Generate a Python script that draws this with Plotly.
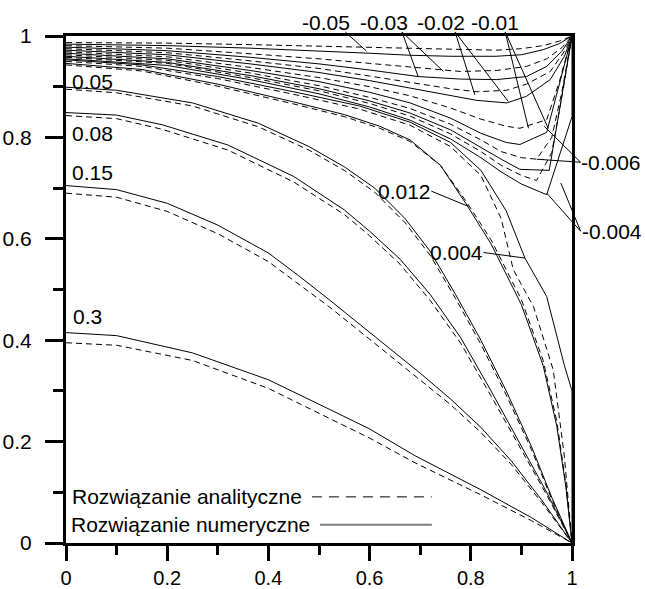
import plotly.graph_objects as go

# ---------------- data ----------------
# positive levels: numerical (solid) and analytical (dashed)
n030_x = [0, 0.1, 0.25, 0.4, 0.52, 0.6, 0.69, 0.82, 0.92, 1]
n030_y = [0.415, 0.409, 0.375, 0.322, 0.264, 0.225, 0.172, 0.105, 0.05, 0]
a030_x = [0, 0.1, 0.25, 0.4, 0.52, 0.6, 0.69, 0.82, 0.92, 1]
a030_y = [0.395, 0.39, 0.36, 0.305, 0.246, 0.207, 0.158, 0.095, 0.044, 0]

n015_x = [0, 0.1, 0.2, 0.3, 0.4, 0.46, 0.52, 0.6, 0.7, 0.76, 0.82, 0.88, 0.94, 1]
n015_y = [0.705, 0.697, 0.67, 0.627, 0.572, 0.527, 0.48, 0.415, 0.335, 0.284, 0.228, 0.162, 0.085, 0]
a015_x = [0, 0.1, 0.2, 0.3, 0.4, 0.46, 0.52, 0.6, 0.7, 0.76, 0.82, 0.88, 0.94, 1]
a015_y = [0.69, 0.682, 0.654, 0.61, 0.555, 0.51, 0.466, 0.402, 0.322, 0.273, 0.218, 0.155, 0.08, 0]

n008_x = [0, 0.1, 0.19, 0.32, 0.45, 0.55, 0.6, 0.66, 0.72, 0.78, 0.84, 0.9, 0.95, 1]
n008_y = [0.849, 0.844, 0.825, 0.785, 0.723, 0.657, 0.615, 0.56, 0.49, 0.405, 0.3, 0.19, 0.1, 0]
a008_x = [0, 0.1, 0.19, 0.32, 0.45, 0.55, 0.6, 0.66, 0.72, 0.78, 0.84, 0.9, 0.95, 1]
a008_y = [0.843, 0.837, 0.816, 0.775, 0.712, 0.648, 0.606, 0.55, 0.478, 0.394, 0.29, 0.182, 0.095, 0]

n005_x = [0, 0.1, 0.25, 0.38, 0.48, 0.55, 0.61, 0.67, 0.72, 0.77, 0.82, 0.87, 0.92, 0.96, 1]
n005_y = [0.899, 0.893, 0.868, 0.828, 0.782, 0.742, 0.70, 0.64, 0.575, 0.49, 0.40, 0.30, 0.19, 0.09, 0]
a005_x = [0, 0.1, 0.25, 0.38, 0.48, 0.55, 0.61, 0.67, 0.72, 0.77, 0.82, 0.87, 0.92, 0.96, 1]
a005_y = [0.895, 0.888, 0.862, 0.821, 0.775, 0.735, 0.692, 0.632, 0.567, 0.482, 0.392, 0.292, 0.184, 0.086, 0]

n0012_x = [0, 0.15, 0.3, 0.45, 0.55, 0.62, 0.68, 0.74, 0.79, 0.84, 0.9, 0.943, 0.97, 0.988, 1]
n0012_y = [0.946, 0.934, 0.905, 0.87, 0.845, 0.822, 0.795, 0.745, 0.67, 0.59, 0.47, 0.35, 0.23, 0.11, 0]
a0012_x = [0, 0.15, 0.3, 0.45, 0.55, 0.62, 0.68, 0.74, 0.79, 0.84, 0.9, 0.943, 0.97, 0.988, 1]
a0012_y = [0.943, 0.931, 0.901, 0.866, 0.841, 0.818, 0.792, 0.745, 0.675, 0.598, 0.48, 0.36, 0.24, 0.115, 0]

n0004_x = [0, 0.15, 0.3, 0.45, 0.58, 0.68, 0.76, 0.82, 0.87, 0.907, 0.95, 0.985, 1, 1]
n0004_y = [0.953, 0.943, 0.92, 0.89, 0.862, 0.83, 0.79, 0.735, 0.655, 0.562, 0.486, 0.35, 0.30, 0]
a0004_x = [0, 0.15, 0.3, 0.45, 0.58, 0.68, 0.76, 0.82, 0.86, 0.884, 0.924, 0.963, 0.985, 1]
a0004_y = [0.95, 0.94, 0.916, 0.885, 0.856, 0.824, 0.782, 0.725, 0.64, 0.539, 0.466, 0.341, 0.17, 0]

# negative levels
nm005_x = [0, 0.2, 0.364, 0.5, 0.6, 0.68, 0.76, 0.85, 0.9, 0.943, 0.975, 1]
nm005_y = [0.984, 0.981, 0.976, 0.971, 0.966, 0.962, 0.96, 0.96, 0.963, 0.973, 0.985, 1]
am005_x = [0, 0.2, 0.364, 0.5, 0.6, 0.68, 0.76, 0.85, 0.9, 0.943, 0.975, 1]
am005_y = [0.987, 0.986, 0.983, 0.98, 0.977, 0.975, 0.973, 0.972, 0.975, 0.981, 0.99, 1]

nm003_x = [0, 0.2, 0.364, 0.5, 0.6, 0.696, 0.78, 0.851, 0.91, 0.95, 0.98, 1]
nm003_y = [0.978, 0.971, 0.958, 0.945, 0.933, 0.92, 0.915, 0.914, 0.92, 0.94, 0.97, 1]
am003_x = [0, 0.2, 0.364, 0.5, 0.6, 0.696, 0.78, 0.851, 0.91, 0.95, 0.98, 1]
am003_y = [0.981, 0.976, 0.965, 0.955, 0.946, 0.937, 0.93, 0.932, 0.94, 0.955, 0.977, 1]

nm002_x = [0, 0.2, 0.364, 0.5, 0.6, 0.68, 0.76, 0.812, 0.871, 0.91, 0.957, 0.985, 1]
nm002_y = [0.972, 0.963, 0.945, 0.928, 0.912, 0.897, 0.882, 0.873, 0.868, 0.881, 0.914, 0.96, 1]
am002_x = [0, 0.2, 0.364, 0.5, 0.6, 0.68, 0.76, 0.812, 0.871, 0.91, 0.957, 0.985, 1]
am002_y = [0.975, 0.967, 0.951, 0.936, 0.921, 0.908, 0.896, 0.89, 0.893, 0.905, 0.93, 0.97, 1]

nm001_x = [0, 0.2, 0.364, 0.5, 0.6, 0.68, 0.76, 0.82, 0.87, 0.897, 0.95, 0.975, 1]
nm001_y = [0.966, 0.955, 0.932, 0.91, 0.889, 0.868, 0.838, 0.808, 0.79, 0.786, 0.81, 0.905, 1]
am001_x = [0, 0.2, 0.364, 0.5, 0.6, 0.68, 0.76, 0.82, 0.87, 0.897, 0.95, 0.975, 1]
am001_y = [0.969, 0.959, 0.938, 0.918, 0.9, 0.882, 0.858, 0.836, 0.822, 0.818, 0.835, 0.91, 1]

nm0006_x = [0, 0.2, 0.364, 0.5, 0.6, 0.68, 0.76, 0.82, 0.86, 0.897, 0.955, 1]
nm0006_y = [0.96, 0.948, 0.922, 0.896, 0.872, 0.848, 0.815, 0.78, 0.757, 0.737, 0.735, 1]
am0006_x = [0, 0.2, 0.364, 0.5, 0.6, 0.68, 0.76, 0.82, 0.86, 0.9, 0.93, 0.96, 0.98, 1]
am0006_y = [0.963, 0.952, 0.927, 0.902, 0.879, 0.857, 0.826, 0.795, 0.772, 0.76, 0.757, 0.8, 0.89, 1]

nm0004_x = [0, 0.2, 0.364, 0.5, 0.6, 0.68, 0.76, 0.82, 0.86, 0.9, 0.95, 1, 1]
nm0004_y = [0.955, 0.942, 0.914, 0.886, 0.86, 0.834, 0.797, 0.76, 0.732, 0.708, 0.687, 0.841, 1]
am0004_x = [0, 0.2, 0.364, 0.5, 0.6, 0.68, 0.76, 0.82, 0.86, 0.9, 0.93, 0.96, 0.98, 1]
am0004_y = [0.958, 0.946, 0.918, 0.892, 0.867, 0.842, 0.807, 0.772, 0.745, 0.725, 0.715, 0.77, 0.88, 1]

# contour labels: text, x, y (axis units), anchor
label_text = ["0.05", "0.08", "0.15", "0.3", "0.012", "0.004",
              "-0.05", "-0.03", "-0.02", "-0.01", "-0.006", "-0.004"]
label_x = [0.008, 0.008, 0.008, 0.01, 0.668, 0.771, 0.514, 0.628, 0.741, 0.848, 1.077, 1.079]
label_y = [0.910, 0.808, 0.730, 0.446, 0.693, 0.573, 1.026, 1.026, 1.026, 1.026, 0.751, 0.614]
label_anchor = ["left", "left", "left", "left", "center", "center",
                "center", "center", "center", "center", "center", "center"]

# leader lines: start (x0,y0) -> tip (x1,y1)
leader_x0 = [0.552, 0.664, 0.664, 0.769, 0.769, 0.868, 0.868, 1.017, 1.017, 1.017, 1.017, 0.722, 0.825]
leader_y0 = [1.008, 1.008, 1.008, 1.008, 1.008, 1.008, 1.008, 0.751, 0.751, 0.615, 0.615, 0.694, 0.573]
leader_x1 = [0.594, 0.696, 0.746, 0.808, 0.874, 0.914, 0.953, 0.930, 0.945, 0.950, 0.978, 0.795, 0.907]
leader_y1 = [0.970, 0.920, 0.930, 0.884, 0.871, 0.818, 0.818, 0.757, 0.822, 0.690, 0.710, 0.664, 0.562]

legend_labels = ["Rozwiązanie analityczne", "Rozwiązanie numeryczne"]

tick_vals = [0, 0.2, 0.4, 0.6, 0.8, 1]
tick_text = ["0", "0.2", "0.4", "0.6", "0.8", "1"]
minor_vals = [0.1, 0.3, 0.5, 0.7, 0.9]

# ---------------- figure ----------------
FONT = "Liberation Sans, Arial, sans-serif"
FS = 21
DASH = "6px,4px"

numeric = [(n030_x, n030_y), (n015_x, n015_y), (n008_x, n008_y), (n005_x, n005_y),
           (n0012_x, n0012_y), (n0004_x, n0004_y),
           (nm005_x, nm005_y), (nm003_x, nm003_y), (nm002_x, nm002_y), (nm001_x, nm001_y),
           (nm0006_x, nm0006_y), (nm0004_x, nm0004_y)]
analytic = [(a030_x, a030_y), (a015_x, a015_y), (a008_x, a008_y), (a005_x, a005_y),
            (a0012_x, a0012_y), (a0004_x, a0004_y),
            (am005_x, am005_y), (am003_x, am003_y), (am002_x, am002_y), (am001_x, am001_y),
            (am0006_x, am0006_y), (am0004_x, am0004_y)]

fig = go.Figure()
for xs, ys in analytic:
    fig.add_trace(go.Scatter(x=xs, y=ys, mode="lines", showlegend=False, hoverinfo="skip",
                             line=dict(color="black", width=1, dash=DASH)))
for xs, ys in numeric:
    fig.add_trace(go.Scatter(x=xs, y=ys, mode="lines", showlegend=False, hoverinfo="skip",
                             line=dict(color="black", width=1)))

# axis ranges are exactly [0,1] over the full plot domain, so paper coords == axis coords
annotations = []
for t, x, y, a in zip(label_text, label_x, label_y, label_anchor):
    annotations.append(dict(text=t, x=x, y=y, xref="paper", yref="paper", showarrow=False,
                            xanchor=a, yanchor="middle",
                            font=dict(family=FONT, size=FS, color="black")))

annotations.append(dict(text=legend_labels[0], x=0.008, y=0.091, xref="paper", yref="paper",
                        showarrow=False, xanchor="left", yanchor="middle",
                        font=dict(family=FONT, size=FS, color="black")))
annotations.append(dict(text=legend_labels[1], x=0.006, y=0.036, xref="paper", yref="paper",
                        showarrow=False, xanchor="left", yanchor="middle",
                        font=dict(family=FONT, size=FS, color="black")))

shapes = []
for x0, y0, x1, y1 in zip(leader_x0, leader_y0, leader_x1, leader_y1):
    shapes.append(dict(type="line", xref="paper", yref="paper", x0=x0, y0=y0, x1=x1, y1=y1,
                       line=dict(color="black", width=1)))
shapes.append(dict(type="line", xref="paper", yref="paper", x0=0.486, y0=0.091, x1=0.723, y1=0.091,
                   line=dict(color="black", width=1, dash="10px,7px")))
shapes.append(dict(type="line", xref="paper", yref="paper", x0=0.502, y0=0.036, x1=0.723, y1=0.036,
                   line=dict(color="#808080", width=2)))

axis_common = dict(range=[0, 1], showgrid=False, zeroline=False, showline=True,
                   linewidth=3, linecolor="black", mirror=True, automargin=False,
                   ticks="outside", tickwidth=3, tickcolor="black",
                   tickvals=tick_vals, ticktext=tick_text)

fig.update_layout(
    width=645, height=589,
    margin=dict(l=66, r=73, t=36, b=46, pad=0, autoexpand=False),
    paper_bgcolor="white", plot_bgcolor="white",
    xaxis=dict(axis_common, ticklen=15, ticklabelstandoff=0,
               tickfont=dict(family=FONT, size=20, color="black"),
               minor=dict(tickvals=minor_vals, ticks="outside", ticklen=9,
                          tickwidth=3, tickcolor="black")),
    yaxis=dict(axis_common, ticklen=18, ticklabelstandoff=9,
               tickfont=dict(family=FONT, size=FS, color="black"),
               minor=dict(tickvals=minor_vals, ticks="outside", ticklen=10,
                          tickwidth=3, tickcolor="black")),
    annotations=annotations, shapes=shapes,
)

fig.write_html("out.html", config={"displayModeBar": False})
